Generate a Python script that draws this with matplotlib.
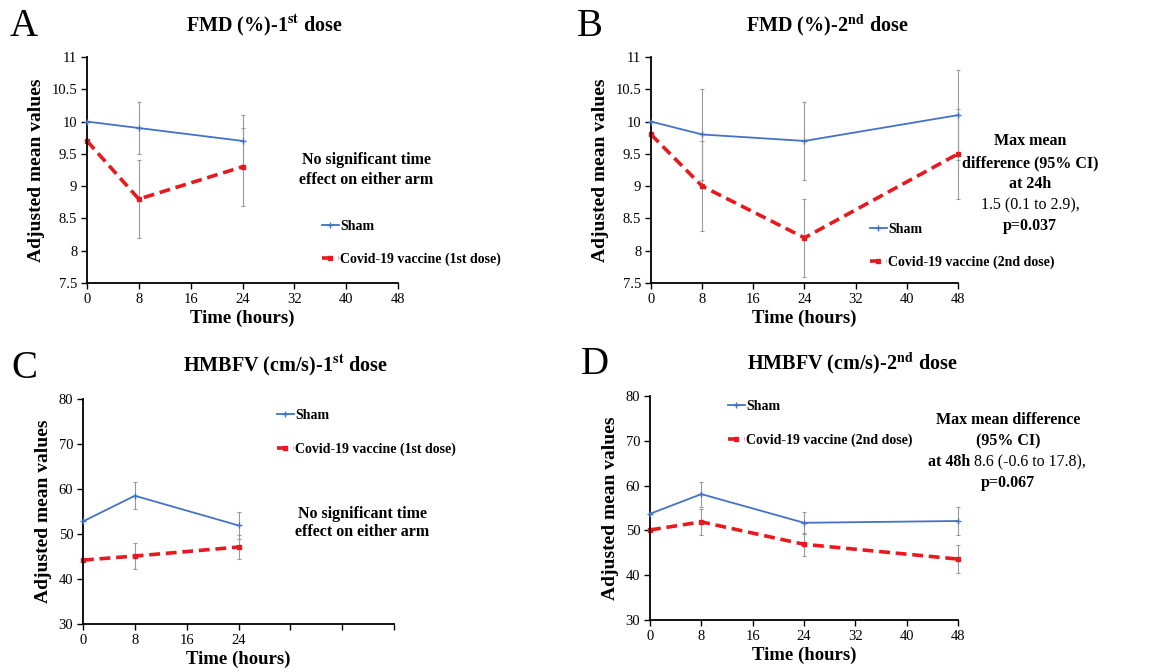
import numpy as np
import matplotlib
matplotlib.use('Agg')
import matplotlib.pyplot as plt

plt.rcParams['font.family'] = ['Liberation Serif', 'DejaVu Serif']
plt.rcParams['mathtext.fontset'] = 'stix'

# data
times_1st = [0, 8, 24]
times_2nd = [0, 8, 24, 48]
xticks = [0, 8, 16, 24, 32, 40, 48]

fmd1_sham = [10.0, 9.9, 9.7]
fmd1_sham_err = [0.4, 0.4]
fmd1_vac = [9.7, 8.8, 9.3]
fmd1_vac_err = [0.6, 0.6]

fmd2_sham = [10.0, 9.8, 9.7, 10.1]
fmd2_sham_err = [0.7, 0.6, 0.7]
fmd2_vac = [9.8, 9.0, 8.2, 9.5]
fmd2_vac_err = [0.7, 0.6, 0.7]

hm1_sham = [52.8, 58.5, 51.9]
hm1_sham_err = [3.0, 3.0]
hm1_vac = [44.2, 45.1, 47.1]
hm1_vac_err = [2.8, 2.7]

hm2_sham = [53.7, 58.1, 51.7, 52.1]
hm2_sham_err = [2.8, 2.5, 3.2]
hm2_vac = [50.1, 51.9, 46.9, 43.6]
hm2_vac_err = [2.9, 2.6, 3.2]

BLUE = '#4472C4'
RED = '#E8191E'
GREY = '#9A9A9A'

fig = plt.figure(figsize=(11.69, 6.72), dpi=100)
W, H = 1169, 672


def box(l, t, r, b):
    return [l / W, 1 - b / H, (r - l) / W, (b - t) / H]


def panel(rect, t, sham, sham_err, vac, vac_err, dose, ylim, yticks, xlabels, leg_xy):
    ax = fig.add_axes(rect)
    for y, e in [(sham, sham_err), (vac, vac_err)]:
        eb = ax.errorbar(t[1:], y[1:], yerr=e, fmt='none', ecolor=GREY,
                         elinewidth=0.8, capsize=1.5, capthick=0.8, zorder=1)
        for art in eb.get_children():
            art.set_clip_on(False)
    ax.plot(t, sham, color=BLUE, lw=1.3, marker='+', ms=4, mew=1, label='Sham',
            zorder=3, clip_on=False)
    ax.plot(t, vac, color=RED, lw=2.6, ls=(0, (3, 1.6)), marker='s', ms=3,
            label=f'Covid-19 vaccine ({dose} dose)', zorder=2, clip_on=False)
    ax.set_xlim(0, 48)
    ax.set_ylim(*ylim)
    ax.set_xticks(xticks)
    ax.set_xticklabels(xlabels)
    ax.set_yticks(yticks)
    ax.set_yticklabels([f'{v:g}' for v in yticks])
    for s in ['top', 'right']:
        ax.spines[s].set_visible(False)
    for s in ['left', 'bottom']:
        ax.spines[s].set_linewidth(1.3)
    ax.tick_params(direction='out', length=4, width=1, labelsize=10.5, pad=3)
    ax.set_xlabel('Time (hours)', fontsize=13.5, fontweight='bold', labelpad=3)
    ax.set_ylabel('Adjusted mean values', fontsize=14, fontweight='bold', labelpad=5)
    ax.legend(loc='center left', bbox_to_anchor=leg_xy, frameon=False,
              prop={'weight': 'bold', 'size': 10}, handlelength=1.2,
              handletextpad=0.1, labelspacing=1.45, borderpad=0, borderaxespad=0)
    return ax


fmd_ticks = [7.5, 8, 8.5, 9, 9.5, 10, 10.5, 11]
hm_ticks = [30, 40, 50, 60, 70, 80]
all_labels = [str(x) for x in xticks]
c_labels = ['0', '8', '16', '24', '', '', '']

panel(box(87, 57, 398, 283), times_1st, fmd1_sham, fmd1_sham_err, fmd1_vac, fmd1_vac_err,
      '1st', (7.5, 11), fmd_ticks, all_labels, (0.756, 0.177))
panel(box(651, 57, 958, 283), times_2nd, fmd2_sham, fmd2_sham_err, fmd2_vac, fmd2_vac_err,
      '2nd', (7.5, 11), fmd_ticks, all_labels, (0.713, 0.164))
panel(box(83, 399, 394, 624), times_1st, hm1_sham, hm1_sham_err, hm1_vac, hm1_vac_err,
      '1st', (30, 80), hm_ticks, c_labels, (0.624, 0.851))
panel(box(650, 396, 958, 620), times_2nd, hm2_sham, hm2_sham_err, hm2_vac, hm2_vac_err,
      '2nd', (30, 80), hm_ticks, all_labels, (0.253, 0.877))


def ftext(x, y, s, **kw):
    fig.text(x / W, 1 - y / H, s, va='center', **kw)


# panel letters and titles
for letter, x, y in [('A', 24, 27), ('B', 590, 27), ('C', 24, 368), ('D', 595, 365)]:
    ftext(x, y, letter, ha='center', fontsize=28)
ftext(265, 25, r'FMD (%)-1$^{\mathbf{st}}$ dose', ha='center', fontsize=14.5, fontweight='bold')
ftext(827, 25, r'FMD (%)-2$^{\mathbf{nd}}$ dose', ha='center', fontsize=14.5, fontweight='bold')
ftext(286, 365, r'HMBFV (cm/s)-1$^{\mathbf{st}}$ dose', ha='center', fontsize=14.5, fontweight='bold')
ftext(852, 363, r'HMBFV (cm/s)-2$^{\mathbf{nd}}$ dose', ha='center', fontsize=14.5, fontweight='bold')

# annotations
note = 'No significant time\neffect on either arm'
ftext(366, 170, note, ha='center', fontsize=11.5, fontweight='bold', linespacing=1.25)
ftext(362, 523, note, ha='center', fontsize=11.5, fontweight='bold', linespacing=1.25)

ftext(1030, 141, 'Max mean', ha='center', fontsize=11.5, fontweight='bold')
ftext(1030, 163, 'difference (95% CI)', ha='center', fontsize=11.5, fontweight='bold')
ftext(1030, 184, 'at 24h', ha='center', fontsize=11.5, fontweight='bold')
ftext(1030, 205, '1.5 (0.1 to 2.9),', ha='center', fontsize=11.5)
ftext(1030, 226, 'p=0.037', ha='center', fontsize=11.5, fontweight='bold')

ftext(1008, 420, 'Max mean difference', ha='center', fontsize=11.5, fontweight='bold')
ftext(1008, 441, '(95% CI)', ha='center', fontsize=11.5, fontweight='bold')
ftext(970, 462, 'at 48h', ha='right', fontsize=11.5, fontweight='bold')
ftext(974, 462, '8.6 (-0.6 to 17.8),', ha='left', fontsize=11.5)
ftext(1008, 483, 'p=0.067', ha='center', fontsize=11.5, fontweight='bold')

fig.savefig('out.png', dpi=100)
